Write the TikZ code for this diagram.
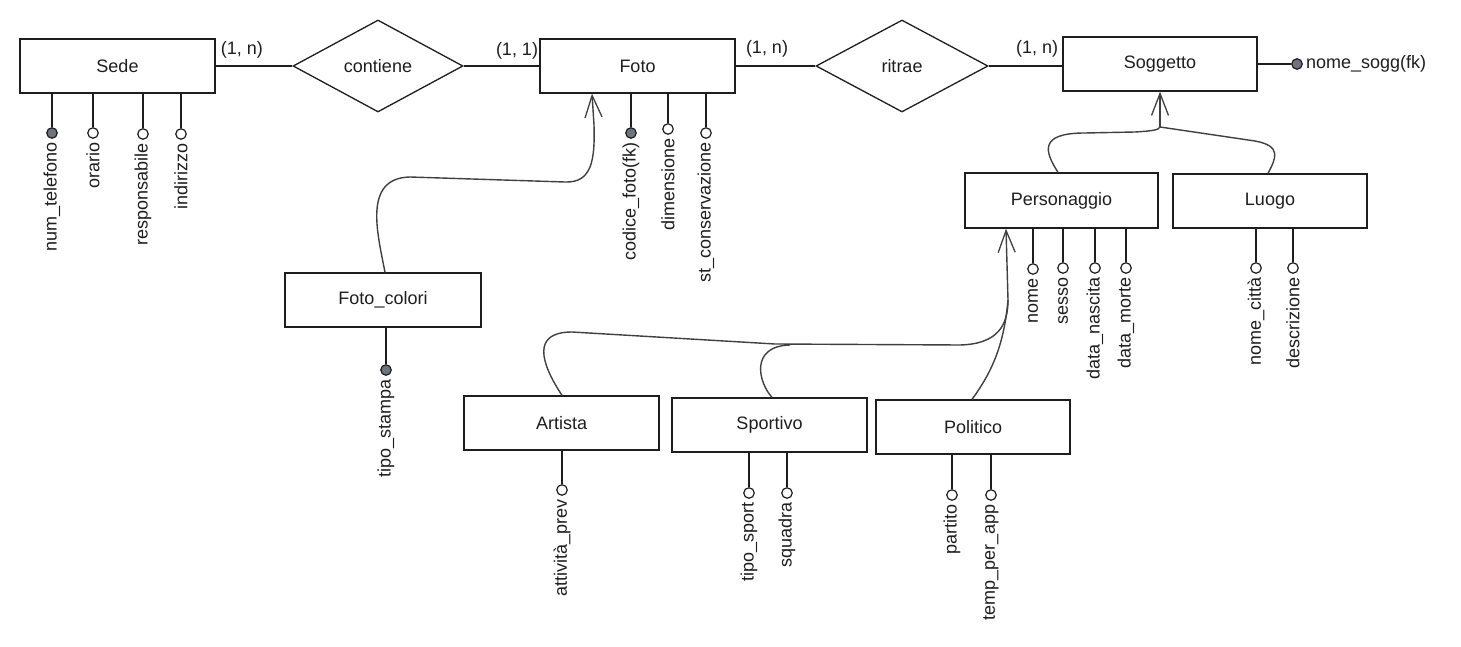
\documentclass[tikz,border=0pt]{standalone}
\usepackage{fontspec}
\setmainfont{Liberation Sans}
\usetikzlibrary{shapes.geometric,arrows.meta,calc}
\definecolor{ink}{HTML}{1E1E1E}
\definecolor{keyfill}{HTML}{6C757D}
\newcommand{\attrdown}[6]{%
  \node[#1] (#2) at (#3,#4) {};
  \draw[link] (#2) -- (#2 |- #5.south);
  \node[atext] (#2-t) at (#2.south) {#6};}
\begin{document}
\begin{tikzpicture}[x=1pt,y=-1pt,
  every node/.style={font=\fontsize{18}{21}\selectfont, text=ink},
  entity/.style={draw=ink, line width=1.3pt, minimum width=195pt, minimum height=54pt, inner sep=0pt},
  relation/.style={draw=ink, line width=1.3pt, shape=diamond, minimum width=172pt, minimum height=92pt, inner sep=0pt},
  link/.style={draw=ink, line width=1.3pt},
  isa/.style={draw=ink!85, line width=1.4pt},
  openhead/.style={-{Straight Barb[length=22pt,width=17pt,line width=1.3pt]}},
  attr/.style={circle, draw=ink, line width=1.2pt, fill=white, minimum size=10.5pt, inner sep=0pt},
  keyattr/.style={attr, fill=keyfill},
  atext/.style={rotate=90, anchor=east, inner sep=3pt},
  card/.style={inner sep=0pt}]
\useasboundingbox[fill=white] (0,0) rectangle (1461,647);

% entities and relations
\node[entity] (sede) at (117.5,66) {Sede};
\node[relation, minimum width=170pt] (contiene) at (378,66) {contiene};
\node[entity] (foto) at (637.5,66) {Foto};
\node[relation] (ritrae) at (902,66) {ritrae};
\node[entity, minimum width=194pt] (sogg) at (1160,64) {Soggetto};
\node[entity, minimum width=193pt, minimum height=55pt] (pers) at (1061.5,200.5) {Personaggio};
\node[entity, minimum width=194pt] (luogo) at (1270,201) {Luogo};
\node[entity, minimum width=196pt] (fc) at (383,300) {Foto\_colori};
\node[entity] (artista) at (561.5,423) {Artista};
\node[entity] (sportivo) at (769.5,425) {Sportivo};
\node[entity, minimum width=194pt] (politico) at (973,427) {Politico};

% relationship lines
\draw[link] (sede.east) -- (contiene.west);
\draw[link] (contiene.east) -- (foto.west);
\draw[link] (foto.east) -- (ritrae.west);
\draw[link] (ritrae.east) -- (ritrae.east -| sogg.west);

% cardinalities
\node[card] (c1) at (242,50) {(1, n)};
\node[card] (c2) at (517,51) {(1, 1)};
\node[card] (c3) at (767,49) {(1, n)};
\node[card] (c4) at (1037,49) {(1, n)};

% attributes of Sede
\attrdown{keyattr}{a-numtel}{52}{133}{sede}{num\_telefono}
\attrdown{attr}{a-orario}{93}{133}{sede}{orario}
\attrdown{attr}{a-resp}{143}{134}{sede}{responsabile}
\attrdown{attr}{a-indir}{181}{134}{sede}{indirizzo}

% attributes of Foto
\attrdown{keyattr}{a-codfoto}{631}{133}{foto}{codice\_foto(fk)}
\attrdown{attr}{a-dim}{668}{129}{foto}{dimensione}
\attrdown{attr}{a-stcons}{706}{133}{foto}{st\_conservazione}

% attribute of Foto_colori
\attrdown{keyattr}{a-tipost}{386}{370}{fc}{tipo\_stampa}

% attribute of Soggetto
\node[keyattr] (a-nsogg) at (1297,64) {};
\draw[link] (sogg.east |- a-nsogg) -- (a-nsogg);
\node[anchor=west, inner sep=3pt] (a-nsogg-t) at (a-nsogg.east) {nome\_sogg(fk)};

% attributes of Personaggio
\attrdown{attr}{a-nome}{1033}{269}{pers}{nome}
\attrdown{attr}{a-sesso}{1063}{268}{pers}{sesso}
\attrdown{attr}{a-dnasc}{1095}{268}{pers}{data\_nascita}
\attrdown{attr}{a-dmorte}{1126}{268}{pers}{data\_morte}

% attributes of Luogo
\attrdown{attr}{a-citta}{1256}{268}{luogo}{nome\_città}
\attrdown{attr}{a-descr}{1293}{268}{luogo}{descrizione}

% attributes of Artista, Sportivo, Politico
\attrdown{attr}{a-attprev}{562}{490}{artista}{attività\_prev}
\attrdown{attr}{a-tiposp}{749}{493}{sportivo}{tipo\_sport}
\attrdown{attr}{a-squadra}{787}{493}{sportivo}{squadra}
\attrdown{attr}{a-partito}{952}{495}{politico}{partito}
\attrdown{attr}{a-temp}{991}{495}{politico}{temp\_per\_app}

% generalisation: Foto_colori -> Foto
\draw[isa, openhead] ([xshift=2pt]fc.north) .. controls (378,235) and (362,178) .. (410,177)
  -- (565,182) .. controls (592,183) and (595,160) .. (594,125) -- ([xshift=-45.5pt]foto.south);

% generalisation: Personaggio, Luogo -> Soggetto
\coordinate (jS) at (1160,127);
\draw[isa] ([xshift=-3.5pt]pers.north) .. controls (1045,152) and (1038,133) .. (1085,133)
  -- (1135,132) .. controls (1152,131) and (1159,130) .. (jS);
\draw[isa] ([xshift=-2pt]luogo.north) .. controls (1276,158) and (1282,146) .. (1255,141) -- (jS);
\draw[isa, openhead] (jS) -- (sogg.south);

% generalisation: Artista, Sportivo, Politico -> Personaggio
\coordinate (jP) at (1008,300);
\draw[isa] ([xshift=0.5pt]artista.north) .. controls (540,362) and (532,332) .. (572,332)
  -- (775,344) -- (960,345) .. controls (998,344) and (1008,325) .. (jP);
\draw[isa] ([xshift=2.5pt]sportivo.north) .. controls (758,382) and (750,346) .. (790,345);
\draw[isa] ([xshift=-1pt]politico.north) .. controls (992,372) and (1004,345) .. (jP);
\draw[isa, openhead] (jP) -- ([xshift=-55.5pt]pers.south);
\end{tikzpicture}
\end{document}
